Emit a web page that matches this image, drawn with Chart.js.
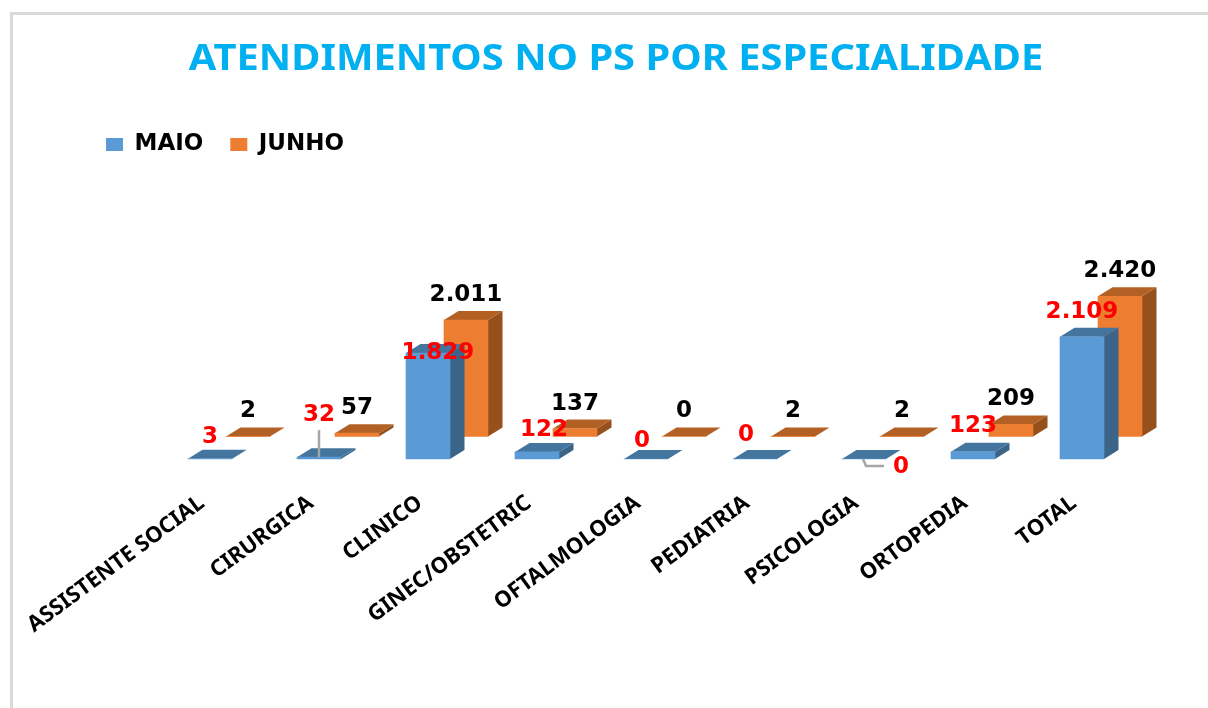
<!DOCTYPE html>
<html lang="pt-BR">
<head>
<meta charset="utf-8">
<title>Atendimentos no PS por especialidade</title>
<script src="https://cdn.jsdelivr.net/npm/chart.js@4"></script>
<style>
html,body{margin:0;padding:0;background:#fff;overflow:hidden}
#frame{position:absolute;left:10px;top:12px;width:1198px;height:696px;box-sizing:border-box;border-left:3px solid #d9d9d9;border-top:3px solid #d9d9d9}
canvas{display:block}
</style>
</head>
<body>
<div id="frame"><canvas id="c" width="1195" height="693"></canvas></div>
<script>
const titleText = 'ATENDIMENTOS NO PS POR ESPECIALIDADE';
const categories = ['ASSISTENTE SOCIAL','CIRURGICA','CLINICO','GINEC/OBSTETRIC','OFTALMOLOGIA','PEDIATRIA','PSICOLOGIA','ORTOPEDIA','TOTAL'];
const maio  = [3, 32, 1829, 122, 0, 0, 0, 123, 2109];
const junho = [2, 57, 2011, 137, 0, 2, 2, 209, 2420];

// Label placement relative to the top of each MAIO bar
const maioLabelDx = [0, 0, 10, 7, -4, -9, 37, 0, 0];
const maioLabelDy = [-22, -42, 0, -22, -18, -24, 8, -26, -25];
const junhoLabelDy = -25;

const DEPTH_X = 14.5, DEPTH_Y = 9;       // 3D depth of each column
const ROW_X = 38, ROW_Y = -22.5;         // offset of the back row (JUNHO)
const TITLE_STRETCH = 1.138;             // the reference's title is stretched sideways
const faces = [
  {top:'#44759f', side:'#3b6488'},
  {top:'#b26024', side:'#95501c'}
];
const fmt = v => v.toLocaleString('pt-BR');

function poly(ctx, pts, color){
  ctx.beginPath();
  pts.forEach((p,i)=> i ? ctx.lineTo(p[0],p[1]) : ctx.moveTo(p[0],p[1]));
  ctx.closePath();
  ctx.fillStyle = color;
  ctx.fill();
}

const threeD = {
  id:'threeD',
  afterLayout(chart){
    const t = chart.titleBlock;
    t.left -= 30; t.right -= 30;
    chart.legend.left -= 76.5;
    if (!t._stretched){
      const draw = t.draw;
      t.draw = function(){
        const ctx = this.ctx, cx = (this.left + this.right) / 2;
        ctx.save();
        ctx.translate(cx, 0); ctx.scale(TITLE_STRETCH, 1); ctx.translate(-cx, 0);
        draw.call(this);
        ctx.restore();
      };
      t._stretched = true;
    }
  },
  beforeDatasetDraw(chart, args){
    const ctx = chart.ctx;
    ctx.save();
    if (args.index === 1) ctx.translate(ROW_X, ROW_Y);
    const f = faces[args.index];
    args.meta.data.forEach(el=>{
      const p = el.getProps(['x','y','base','width'], true);
      const l = p.x - p.width/2, r = p.x + p.width/2;
      poly(ctx, [[r,p.y],[r+DEPTH_X,p.y-DEPTH_Y],[r+DEPTH_X,p.base-DEPTH_Y],[r,p.base]], f.side);
      poly(ctx, [[l,p.y],[l+DEPTH_X,p.y-DEPTH_Y],[r+DEPTH_X,p.y-DEPTH_Y],[r,p.y]], f.top);
    });
  },
  afterDatasetDraw(chart){ chart.ctx.restore(); },
  afterDatasetsDraw(chart){
    const ctx = chart.ctx;
    const m0 = chart.getDatasetMeta(0).data, m1 = chart.getDatasetMeta(1).data;
    ctx.save();
    // leader lines
    ctx.strokeStyle = '#a6a6a6'; ctx.lineWidth = 2.5;
    const a = m0[1];
    ctx.beginPath();
    ctx.moveTo(a.x, a.y + maioLabelDy[1] + 15); ctx.lineTo(a.x, a.y);
    ctx.stroke();
    const b = m0[6];
    ctx.beginPath();
    ctx.moveTo(b.x-1, b.y); ctx.lineTo(b.x+2, b.y+7); ctx.lineTo(b.x+20, b.y+7);
    ctx.stroke();
    // data labels
    ctx.font = 'bold 23px "DejaVu Sans"';
    ctx.textAlign = 'center'; ctx.textBaseline = 'middle';
    ctx.fillStyle = '#000';
    m1.forEach((el,i)=> ctx.fillText(fmt(junho[i]), el.x + ROW_X, el.y + ROW_Y + junhoLabelDy));
    ctx.fillStyle = '#ff0000';
    m0.forEach((el,i)=> ctx.fillText(fmt(maio[i]), el.x + maioLabelDx[i], el.y + maioLabelDy[i]));
    ctx.restore();
  }
};

new Chart(document.getElementById('c'), {
  type:'bar',
  data:{
    labels:categories,
    datasets:[
      {label:'MAIO', data:maio, backgroundColor:'#5b9bd5', clip:false},
      {label:'JUNHO', data:junho, backgroundColor:'#ed7d31', clip:false}
    ]
  },
  plugins:[threeD],
  options:{
    responsive:false,
    animation:false,
    layout:{padding:{left:142.5,right:71.5,top:0,bottom:0}},
    datasets:{bar:{grouped:false,barThickness:44}},
    scales:{
      x:{
        grid:{display:false},
        border:{display:false},
        afterFit(s){ s.paddingLeft=0; s.paddingRight=0; s.height=249; },
        ticks:{
          autoSkip:false,minRotation:36.5,maxRotation:36.5,padding:23,labelOffset:-8,
          color:'#000',font:{family:'"Noto Sans"',weight:'700',size:22}
        }
      },
      y:{display:false,min:0,max:5058}
    },
    plugins:{
      title:{
        display:true,text:titleText,color:'#00b0f0',
        font:{family:'"Noto Sans"',weight:'700',size:35,lineHeight:1.2},
        padding:{top:24,bottom:25}
      },
      legend:{
        position:'top',align:'start',
        labels:{boxWidth:17,boxHeight:13,padding:27,color:'#000',font:{family:'"DejaVu Sans"',weight:'bold',size:23}}
      },
      tooltip:{enabled:false}
    }
  }
});
</script>
</body>
</html>
